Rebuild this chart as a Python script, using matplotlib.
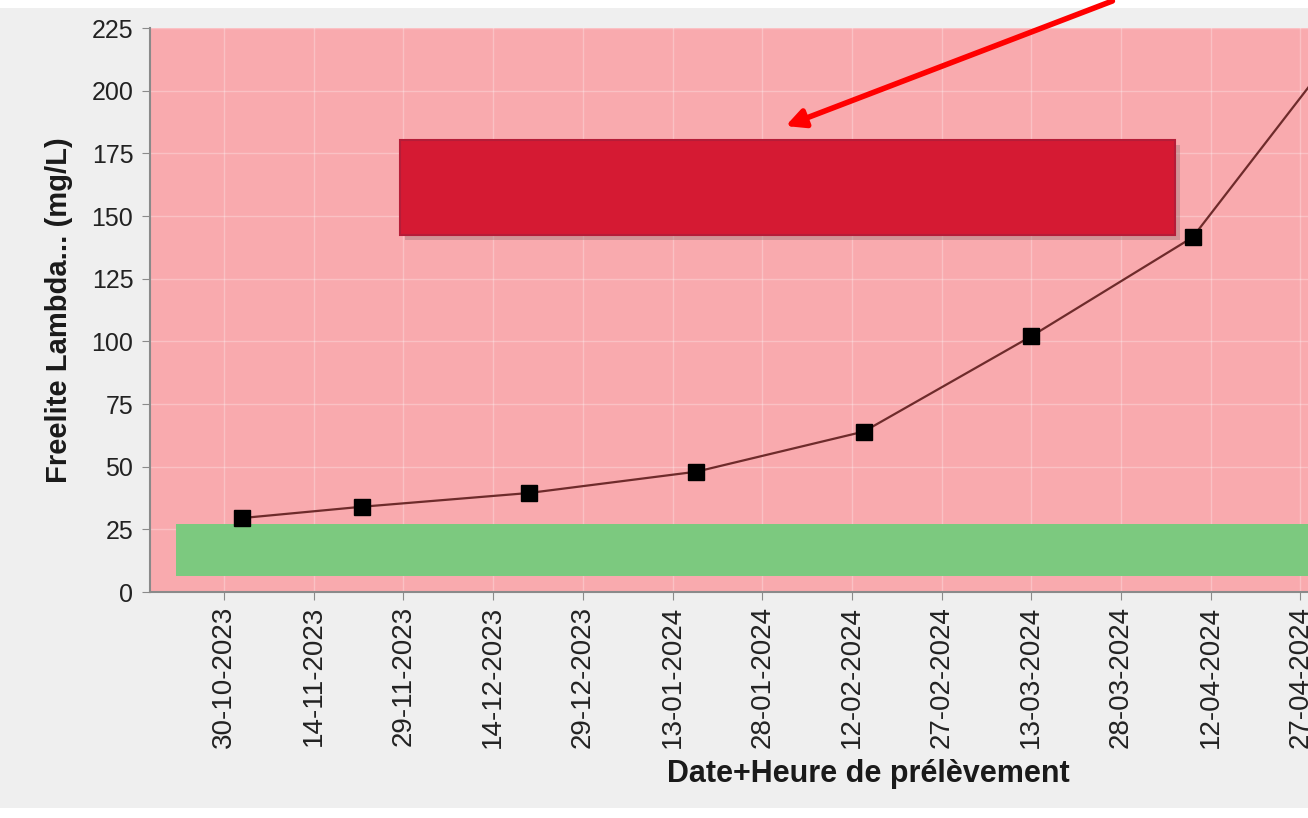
import numpy as np
import pandas as pd
import matplotlib
matplotlib.use('Agg')
import matplotlib.pyplot as plt
import matplotlib.dates as mdates
from matplotlib.patches import Rectangle, FancyArrowPatch

plt.rcParams['font.family'] = ['Liberation Sans', 'DejaVu Sans']

# Données
dates = pd.to_datetime(['2023-11-02', '2023-11-22', '2023-12-20', '2024-01-17',
                        '2024-02-14', '2024-03-13', '2024-04-09', '2024-05-07'])
valeurs = [29.5, 34, 39.5, 48, 64, 102, 141.5, 228]

# Zone de référence (bande verte)
ref_bas = 6.5
ref_haut = 27
ref_debut = pd.Timestamp('2023-10-22')

graduations_x = pd.date_range('2023-10-30', periods=13, freq='15D')
graduations_y = np.arange(0, 226, 25)

fig = plt.figure(figsize=(13.08, 8.18), dpi=100)
fig.patch.set_facecolor('#efefef')

# bandes blanches en haut et en bas
fig.patches.append(Rectangle((0, 1 - 8 / 818), 1, 8 / 818, transform=fig.transFigure,
                             facecolor='white', edgecolor='none', zorder=0))
fig.patches.append(Rectangle((0, 0), 1, 10 / 818, transform=fig.transFigure,
                             facecolor='white', edgecolor='none', zorder=0))

ax = fig.add_axes([150 / 1308, (818 - 592) / 818, (1308 - 150) / 1308, (592 - 28) / 818])
ax.set_facecolor('#f9aaae')

d0 = mdates.date2num(pd.Timestamp('2023-10-30'))
ax.set_xlim(d0 - 12.4, d0 + 181.3)
ax.set_ylim(0, 225)

ax.fill_between([ref_debut, pd.Timestamp('2024-06-30')], ref_bas, ref_haut,
                color='#7cc97f', linewidth=0, zorder=1)

ax.plot(dates, valeurs, color='#6e2b2b', linewidth=1.6, zorder=3)
ax.plot(dates, valeurs, linestyle='none', marker='s', markersize=12,
        color='black', zorder=4)

ax.set_xticks(graduations_x)
ax.xaxis.set_major_formatter(mdates.DateFormatter('%d-%m-%Y'))
ax.set_yticks(graduations_y)
ax.grid(True, color='white', alpha=0.28, linewidth=1)
ax.set_axisbelow(True)

for s in ['top', 'right']:
    ax.spines[s].set_visible(False)
for s in ['left', 'bottom']:
    ax.spines[s].set_color('#8a8a8a')
    ax.spines[s].set_linewidth(1.5)

ax.tick_params(axis='both', colors='#8a8a8a', length=6, labelcolor='#222222')
ax.tick_params(axis='y', labelsize=18, pad=6)
ax.tick_params(axis='x', labelsize=20, rotation=90, pad=4)

ax.set_xlabel('Date+Heure de prélèvement', fontsize=22, fontweight='bold',
              color='#1a1a1a')
ax.xaxis.set_label_coords((868 - 150) / (1308 - 150), -(759 - 592) / 564)
ax.set_ylabel('Freelite Lambda... (mg/L)', fontsize=21, fontweight='bold',
              color='#1a1a1a')
ax.yaxis.set_label_coords(-(150 - 73) / 1158, (592 - 310) / 564)

# rectangle rouge (masquage) avec ombre
W, H = 1308, 818
fig.patches.append(Rectangle((405 / W, 1 - 240 / H), 775 / W, 95 / H,
                             transform=fig.transFigure, facecolor='#8a6a6a',
                             edgecolor='none', alpha=0.35, zorder=5))
fig.patches.append(Rectangle((400 / W, 1 - 235 / H), 775 / W, 95 / H,
                             transform=fig.transFigure, facecolor='#d51a33',
                             edgecolor='#b51d38', linewidth=1.5, zorder=6))

# flèche rouge
fig.patches.append(FancyArrowPatch((1115 / W, 1.0), (783 / W, 1 - 127 / H),
                                   transform=fig.transFigure, arrowstyle='-|>',
                                   mutation_scale=28, color='#ff0000',
                                   linewidth=4, zorder=7))

fig.savefig('out.png', dpi=100, facecolor=fig.get_facecolor())
